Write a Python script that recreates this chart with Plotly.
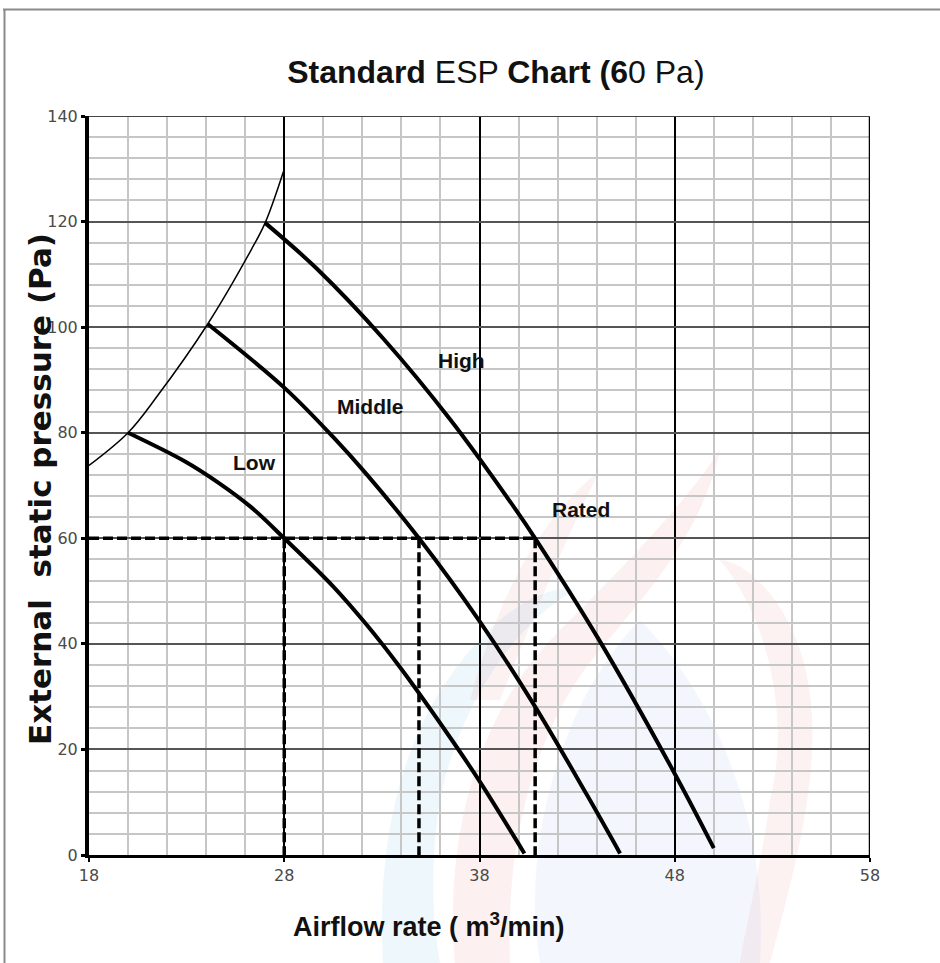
import plotly.graph_objects as go

# Fan curves: airflow (m3/min) vs external static pressure (Pa)
low_x = [20.0, 22.9, 24.6, 26.3, 28.0, 30.5, 32.2, 33.9, 36.3, 38.0, 40.3]
low_y = [80.0, 74.6, 70.6, 65.9, 60.0, 50.9, 43.7, 35.7, 23.3, 14.0, 0.3]

mid_x = [24.08, 28.04, 30.5, 32.2, 34.9, 38.0, 40.8, 43.5, 45.2]
mid_y = [100.6, 88.4, 79.2, 72.2, 60.0, 44.3, 28.4, 11.4, 0.3]

high_x = [27.02, 29.66, 33.08, 36.5, 39.9, 40.85, 44.1, 48.0, 50.0]
high_y = [119.75, 111.1, 97.8, 82.5, 65.2, 60.0, 40.9, 15.4, 1.3]

# Upper limit envelope joining the start of each curve
env_x = [18.0, 20.0, 21.47, 24.08, 26.3, 27.02, 27.96]
env_y = [73.8, 80.0, 86.8, 100.6, 114.6, 119.75, 129.5]

# Rated operating points at 60 Pa
rated_pressure = 60
rated_x = [28.0, 34.9, 40.85]

curve_labels = ["Low", "Middle", "High", "Rated"]
label_x = [26.5, 32.4, 37.1, 43.2]
label_y = [74.4, 85.0, 93.75, 65.5]

x_ticks = [18, 28, 38, 48, 58]
y_ticks = [0, 20, 40, 60, 80, 100, 120, 140]

W, H = 940, 963
L, R, T, B = 89, 70, 116, 108


def px(xp):
    return (xp - L) / (W - L - R)


def py(yp):
    return (H - B - yp) / (H - T - B)


def path(cmds):
    out = []
    for c in cmds:
        if isinstance(c, str):
            out.append(c)
        else:
            out.append(f"{px(c[0]):.4f},{py(c[1]):.4f}")
    return " ".join(out)


fig = go.Figure()

# dashed guides for the rated points
dx, dy = [18, max(rated_x)], [rated_pressure, rated_pressure]
for rx in rated_x:
    dx += [None, rx, rx]
    dy += [None, rated_pressure, 0]
fig.add_trace(go.Scatter(x=dx, y=dy, mode="lines",
                         line=dict(color="black", width=3.5, dash="10px,4px"),
                         hoverinfo="skip"))

fig.add_trace(go.Scatter(x=env_x, y=env_y, mode="lines", line_shape="spline",
                         line=dict(color="black", width=1.5)))
for xs, ys in [(low_x, low_y), (mid_x, mid_y), (high_x, high_y)]:
    fig.add_trace(go.Scatter(x=xs, y=ys, mode="lines", line_shape="spline",
                             line=dict(color="black", width=4)))

for t, lx, ly in zip(curve_labels, label_x, label_y):
    fig.add_annotation(x=lx, y=ly, text=f"<b>{t}</b>", showarrow=False,
                       font=dict(family="Liberation Sans", size=21, color="#111"))

# faint logo in the background
logo = [
    ([ "M", (383, 963), "C", (375, 820), (410, 700), (500, 620), "C", (530, 595), (560, 585), (575, 590),
       "C", (520, 620), (460, 700), (440, 800), "C", (430, 860), (432, 920), (440, 963), "Z"],
     "rgba(120,190,235,0.13)"),
    ([ "M", (455, 963), "C", (445, 850), (470, 720), (560, 630), "C", (620, 570), (680, 510), (720, 450),
       "C", (700, 540), (640, 600), (600, 650), "C", (540, 720), (505, 830), (510, 963), "Z"],
     "rgba(225,120,120,0.11)"),
    ([ "M", (540, 963), "C", (520, 850), (560, 700), (640, 620), "C", (700, 680), (770, 800), (760, 963), "Z"],
     "rgba(170,200,240,0.14)"),
    ([ "M", (770, 963), "C", (800, 850), (830, 740), (800, 650), "C", (780, 590), (740, 560), (720, 560),
       "C", (770, 620), (790, 720), (770, 800), "C", (760, 870), (745, 930), (740, 963), "Z"],
     "rgba(225,130,130,0.10)"),
    ([ "M", (470, 700), "C", (500, 590), (540, 520), (600, 470), "C", (570, 530), (540, 600), (500, 700), "Z"],
     "rgba(225,130,130,0.10)"),
]
for cmds, col in logo:
    fig.add_shape(type="path", path=path(cmds), xref="paper", yref="paper",
                  fillcolor=col, line=dict(width=0), layer="below")

# outer frame
fig.add_shape(type="line", xref="paper", yref="paper", x0=px(3), x1=px(940), y0=py(9.5), y1=py(9.5),
              line=dict(color="#8a8a8a", width=2))
fig.add_shape(type="line", xref="paper", yref="paper", x0=px(4.5), x1=px(4.5), y0=py(9), y1=py(963),
              line=dict(color="#8a8a8a", width=2))

# plot borders (right and top)
fig.add_shape(type="line", x0=58, x1=58, y0=0, y1=140, line=dict(color="black", width=2.5))
fig.add_shape(type="line", x0=18, x1=58, y0=140, y1=140, line=dict(color="#444", width=2))

fig.update_layout(
    width=W, height=H,
    margin=dict(l=L, r=R, t=T, b=B),
    paper_bgcolor="white", plot_bgcolor="rgba(0,0,0,0)",
    showlegend=False,
    title=dict(text="<b>Standard</b> ESP <b>Chart (6</b>0 Pa)", x=px(501), xanchor="center",
               y=1 - 72 / H, yanchor="middle",
               font=dict(family="Liberation Sans", size=32, color="#111")),
)

fig.update_xaxes(range=[18, 58], tickvals=x_ticks, showgrid=True, gridcolor="black", gridwidth=1.5,
                 minor=dict(dtick=2, tick0=18, showgrid=True, gridcolor="#c6c6c6", gridwidth=1.5,
                            ticks=""),
                 showline=True, linecolor="black", linewidth=2.5, zeroline=False,
                 ticks="outside", ticklen=4, tickwidth=2, tickcolor="black",
                 tickfont=dict(family="DejaVu Sans", size=16, color="#4a4a4a"))
fig.update_yaxes(range=[0, 140], tickvals=y_ticks, showgrid=True, gridcolor="#555", gridwidth=1.5,
                 minor=dict(dtick=4, tick0=0, showgrid=True, gridcolor="#c6c6c6", gridwidth=1.5,
                            ticks=""),
                 showline=True, linecolor="black", linewidth=4, zeroline=False,
                 ticks="outside", ticklen=4, tickwidth=3, tickcolor="black",
                 tickfont=dict(family="DejaVu Sans", size=16, color="#4a4a4a"))

fig.add_annotation(x=px(429), y=py(925), xref="paper", yref="paper", showarrow=False,
                   xanchor="center", yanchor="middle",
                   text="<b>Airflow rate ( m<sup>3</sup>/min)</b>",
                   font=dict(family="Liberation Sans", size=27, color="#111"))
fig.add_annotation(x=px(40), y=py(489), xref="paper", yref="paper", showarrow=False, textangle=-90,
                   xanchor="center", yanchor="middle",
                   text="<b>External  static pressure (Pa)</b>",
                   font=dict(family="DejaVu Sans", size=31, color="#111"))

fig.write_html("out.html")
